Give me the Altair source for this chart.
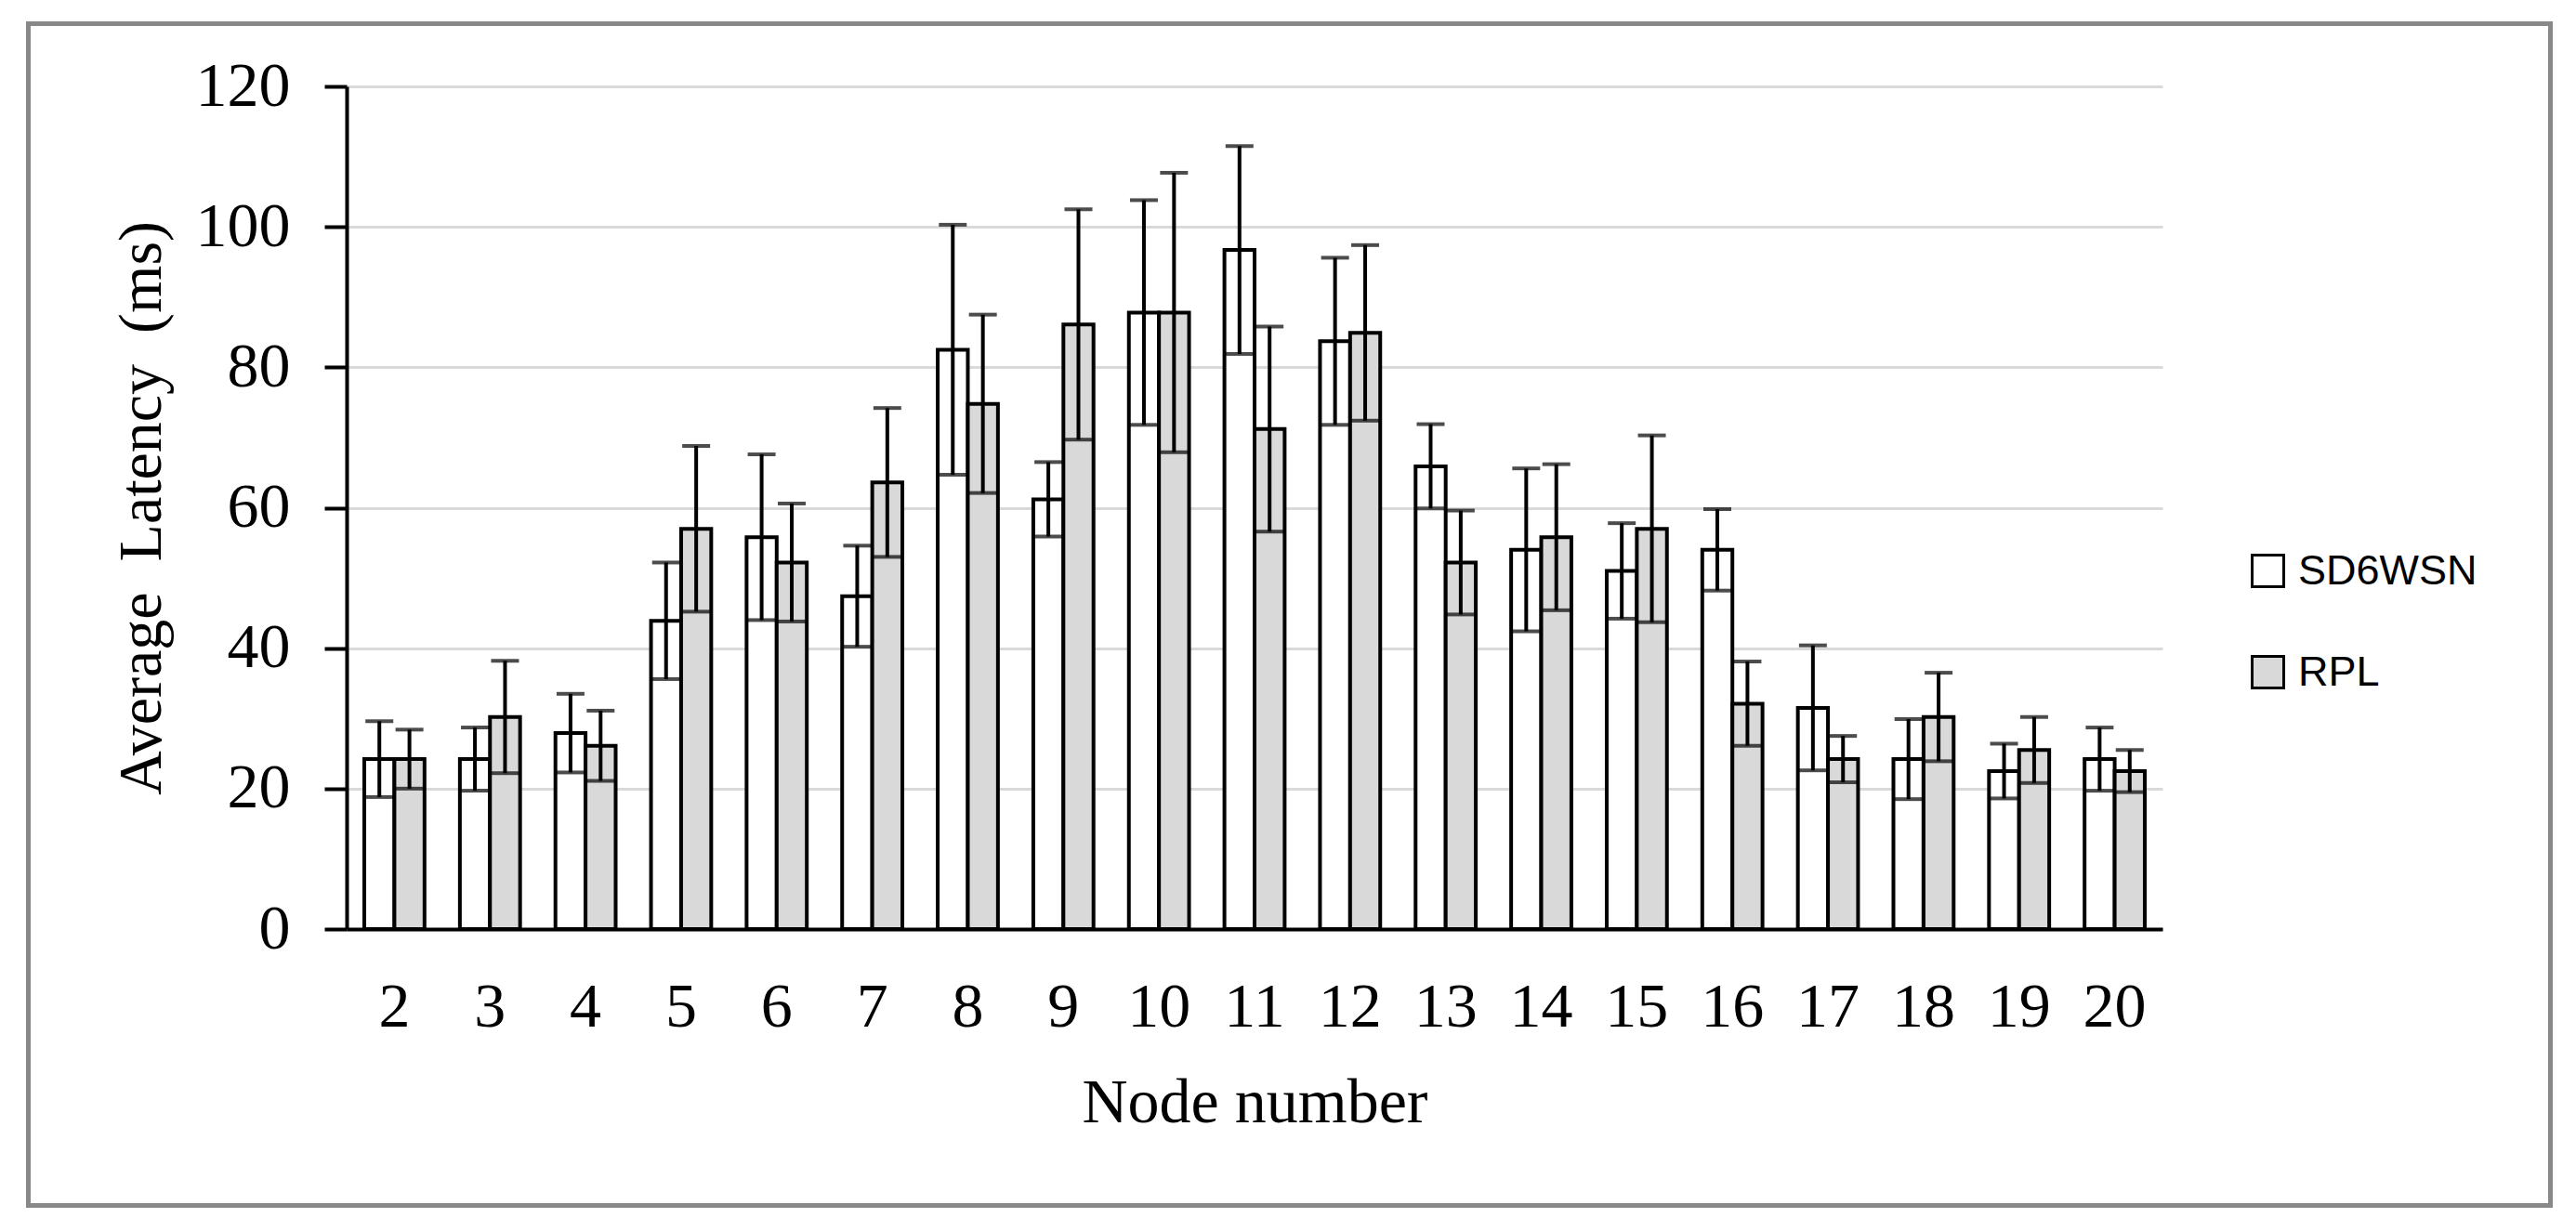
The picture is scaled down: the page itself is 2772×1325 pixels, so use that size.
import altair as alt
import pandas as pd

nodes = [2, 3, 4, 5, 6, 7, 8, 9, 10, 11, 12, 13, 14, 15, 16, 17, 18, 19, 20]
series_names = ["SD6WSN", "RPL"]
sd6wsn = [24.2, 24.2, 27.9, 43.9, 55.8, 47.4, 82.5, 61.2, 87.8, 96.7, 83.7, 65.9, 54.0, 51.0, 54.0, 31.5, 24.2, 22.5, 24.2]
sd6wsn_err = [5.4, 4.5, 5.6, 8.3, 11.8, 7.2, 17.8, 5.3, 16.0, 14.8, 11.9, 6.0, 11.6, 6.8, 5.8, 8.9, 5.7, 3.9, 4.5]
rpl = [24.2, 30.2, 26.1, 57.0, 52.2, 63.6, 74.8, 86.1, 87.8, 71.2, 84.9, 52.2, 55.8, 57.0, 32.1, 24.2, 30.2, 25.5, 22.5]
rpl_err = [4.2, 8.0, 5.0, 11.8, 8.4, 10.6, 12.7, 16.4, 19.9, 14.6, 12.5, 7.4, 10.4, 13.3, 6.0, 3.3, 6.3, 4.7, 3.0]
y_ticks = [0, 20, 40, 60, 80, 100, 120]

rows = []
for i, n in enumerate(nodes):
    for name, vals, errs in (("SD6WSN", sd6wsn, sd6wsn_err), ("RPL", rpl, rpl_err)):
        rows.append({"node": str(n), "series": name, "value": vals[i],
                     "lo": vals[i] - errs[i], "hi": vals[i] + errs[i]})
df = pd.DataFrame(rows)

node_order = [str(n) for n in nodes]
serif = "Liberation Serif"

x_enc = alt.X("node:N", sort=node_order,
              scale=alt.Scale(paddingInner=0.37, paddingOuter=0.185),
              axis=alt.Axis(title="Node number", labelAngle=0, ticks=False,
                            labelFont=serif, labelFontSize=68, labelColor="black",
                            labelPadding=50, titleFont=serif, titleFontSize=68,
                            titleFontWeight="normal", titleColor="black",
                            titlePadding=35, domainColor="black", domainWidth=4,
                            grid=False))
xoff_enc = alt.XOffset("series:N", sort=series_names,
                       scale=alt.Scale(paddingInner=0, paddingOuter=0))
y_scale = alt.Scale(domain=[0, 120], nice=False)

base = alt.Chart(df).encode(x=x_enc, xOffset=xoff_enc)

bars = base.mark_bar(stroke="black", strokeWidth=4).encode(
    y=alt.Y("value:Q", scale=y_scale,
            axis=alt.Axis(title="Average\u00a0 Latency\u00a0 (ms)", values=y_ticks,
                          labelFont=serif, labelFontSize=68, labelColor="black",
                          labelPadding=37, tickSize=24, tickWidth=4, tickColor="black",
                          domainColor="black", domainWidth=4,
                          gridColor="#d9d9d9", gridWidth=3,
                          titleFont=serif, titleFontSize=66, titleFontWeight="normal",
                          titleColor="black", titlePadding=24)),
    fill=alt.Fill("series:N", sort=series_names,
                  scale=alt.Scale(domain=series_names, range=["white", "#d9d9d9"]),
                  legend=alt.Legend(title=None, orient="none", legendX=2045, legendY=499,
                                    symbolType="square", symbolSize=1156,
                                    symbolStrokeColor="black", symbolStrokeWidth=3,
                                    labelFont="Liberation Sans", labelFontSize=45,
                                    labelColor="black", labelOffset=10, rowPadding=62,
                                    labelLimit=1000)),
)

err_line = base.mark_rule(color="black", strokeWidth=4).encode(
    y=alt.Y("lo:Q", scale=y_scale), y2="hi:Q")
cap_hi = base.mark_tick(color="black", thickness=4, size=30).encode(
    y=alt.Y("hi:Q", scale=y_scale))
cap_lo = base.mark_tick(color="black", thickness=4, size=30).encode(
    y=alt.Y("lo:Q", scale=y_scale))

frame = alt.Chart(pd.DataFrame({"f": [0]})).mark_rect(
    fill="transparent", stroke="#888888", strokeWidth=5).encode(
    x=alt.value(-342.5), x2=alt.value(2371.5), y=alt.value(-67.5), y2=alt.value(1204.5))

chart = alt.layer(bars, err_line, cap_hi, cap_lo, frame).properties(
    width=1954, height=907,
    autosize=alt.AutoSizeParams(type="none"),
    padding={"left": 365, "top": 85, "right": 430, "bottom": 310},
).configure_view(strokeWidth=0)

chart.save("out.html", embed_options={"renderer": "svg", "actions": False})
